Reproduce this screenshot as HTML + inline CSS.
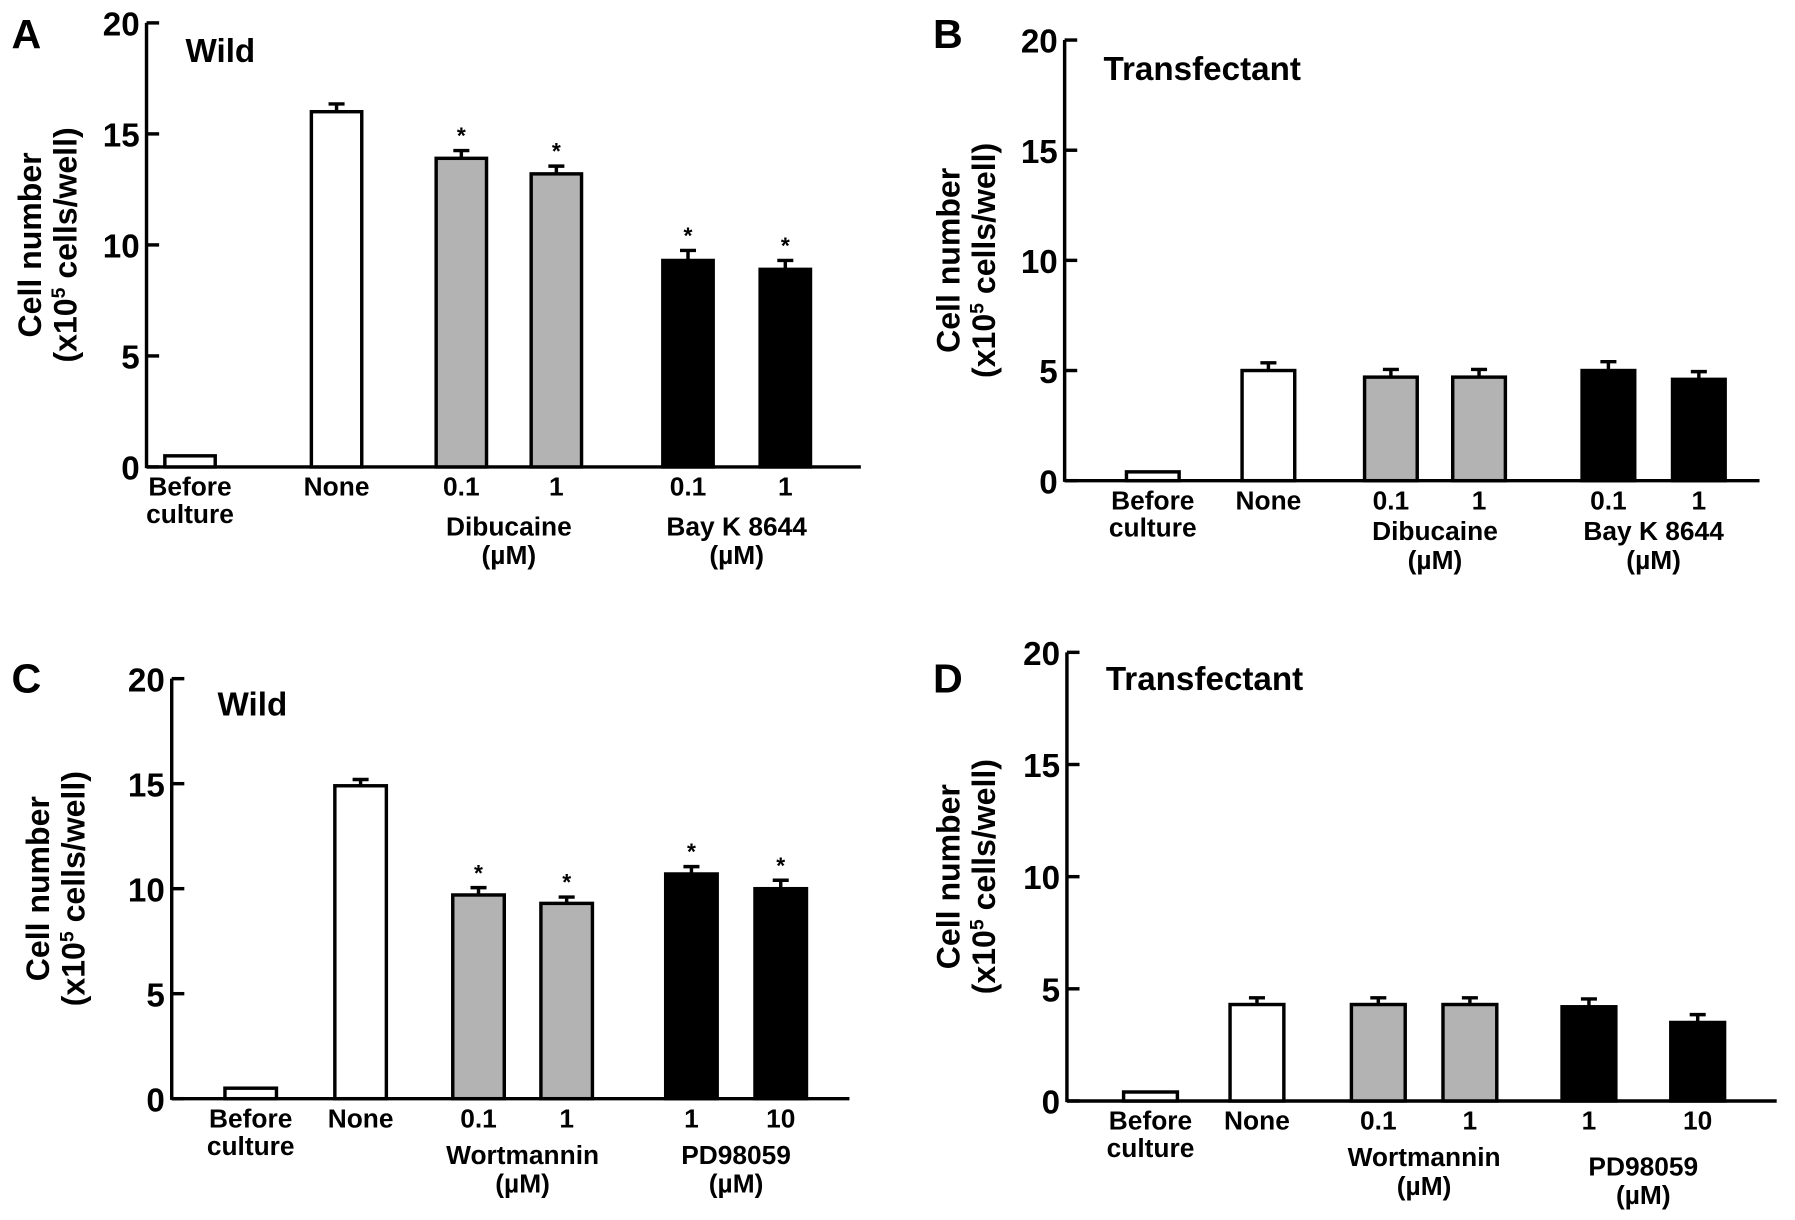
<!DOCTYPE html>
<html><head><meta charset="utf-8"><style>
html,body{margin:0;padding:0;background:#fff;}
svg{display:block;}
text{font-family:"Liberation Sans",Arial,sans-serif;font-weight:bold;fill:#000;}
</style></head><body>
<svg id="fig" width="1795" height="1220" viewBox="0 0 1568 1066" preserveAspectRatio="none" xmlns="http://www.w3.org/2000/svg"></svg>
<script>
const categories = ["Before culture","None","0.1","1","0.1","1"];
const catsCD = ["Before culture","None","0.1","1","1","10"];
const valuesA = [0.5,16.0,13.9,13.2,9.3,8.9];
const errorsA = [0,0.35,0.35,0.35,0.45,0.4];
const valuesB = [0.4,5.0,4.7,4.7,5.0,4.6];
const errorsB = [0,0.35,0.35,0.35,0.4,0.35];
const valuesC = [0.5,14.9,9.7,9.3,10.7,10.0];
const errorsC = [0,0.3,0.35,0.3,0.35,0.4];
const valuesD = [0.4,4.3,4.3,4.3,4.2,3.5];
const errorsD = [0,0.3,0.3,0.3,0.35,0.35];
const yTicks = [0,5,10,15,20];
const fills = ["#fff","#fff","#b3b3b3","#b3b3b3","#000","#000"];
const sigA = [false,false,true,true,true,true];
const sigC = [false,false,true,true,true,true];
const none = [false,false,false,false,false,false];

const NS="http://www.w3.org/2000/svg";
const svg=document.getElementById('fig');
function el(tag,attrs,parent,txt){const e=document.createElementNS(NS,tag);for(const k in attrs)e.setAttribute(k,attrs[k]);if(txt!==undefined)e.textContent=txt;(parent||svg).appendChild(e);return e;}

function panel(cfg){
  const g=el('g',{});
  
  
  const y=v=>cfg.y0-(cfg.y0-cfg.y20)*v/20;
  const ax=el('line',{x1:cfg.ax,y1:cfg.y20,x2:cfg.ax,y2:cfg.y0+1,stroke:'#000','stroke-width':3},g);
  
  
  const xa=el('line',{x1:cfg.ax,y1:cfg.y0,x2:cfg.xend,y2:cfg.y0,stroke:'#000','stroke-width':3},g);
  
  
  yTicks.forEach(t=>{
    el('line',{x1:cfg.ax,y1:y(t),x2:cfg.ax+11,y2:y(t),stroke:'#000','stroke-width':3},g);
    const tl=el('text',{x:cfg.ax-6,y:y(t)+11,'text-anchor':'end','font-size':29},g,String(t));
    
    
  });
  const L=el('text',{x:cfg.lx,y:cfg.ly,'font-size':36},g,cfg.letter);
  
  
  const T=el('text',{x:cfg.tx,y:cfg.ty,'font-size':29},g,cfg.title);
  
  
  const yl=el('text',{transform:`translate(${cfg.ylx},${(cfg.y0+cfg.y20)/2}) rotate(-90)`,'text-anchor':'middle','font-size':28},g);
  
  
  el('tspan',{x:0,dy:0},yl,'Cell number');
  el('tspan',{x:0,dy:31},yl,'(x10');
  el('tspan',{dy:-10,'font-size':17},yl,'5');
  el('tspan',{dy:10},yl,' cells/well)');
  cfg.vals.forEach((v,i)=>{
    const cx=cfg.cx[i], w=cfg.bw;
    const top=y(v);
    const b=el('rect',{x:cx-w/2,y:top,width:w,height:cfg.y0-top,fill:fills[i],stroke:'#000','stroke-width':3},g);
    
    
    if(cfg.err[i]>0){
      const ey=y(v+cfg.err[i]);
      el('line',{x1:cx,y1:top,x2:cx,y2:ey,stroke:'#000','stroke-width':3},g);
      el('line',{x1:cx-7,y1:ey,x2:cx+7,y2:ey,stroke:'#000','stroke-width':3},g);
      if(cfg.sig[i]){
        const s=el('text',{x:cx,y:ey-6,'text-anchor':'middle','font-size':20},g,'*');
        
        
      }
    }
    const lab=cfg.cats[i];
    if(lab==='Before culture'){
      el('text',{x:cx,y:cfg.y0+25,'text-anchor':'middle','font-size':23},g,'Before');
      el('text',{x:cx,y:cfg.y0+49,'text-anchor':'middle','font-size':23},g,'culture');
    } else {
      const c=el('text',{x:cx,y:cfg.y0+25,'text-anchor':'middle','font-size':23},g,lab);
      
      
    }
  });
  cfg.groups.forEach(gr=>{
    const mx=(cfg.cx[gr.i]+cfg.cx[gr.i+1])/2;
    const a=el('text',{x:mx,y:cfg.y0+gr.dy,'text-anchor':'middle','font-size':23},g,gr.name);
    
    
    el('text',{x:mx,y:cfg.y0+gr.dy+25,'text-anchor':'middle','font-size':23},g,'(µM)');
  });
}

panel({letter:'A',lx:10,ly:42,title:'Wild',tx:162,ty:54,ax:128,y20:20,y0:408,xend:752,ylx:36,
  cx:[166,294,403,486,601,686],bw:44,vals:valuesA,err:errorsA,sig:sigA,cats:categories,
  groups:[{i:2,name:'Dibucaine',dy:60},{i:4,name:'Bay K 8644',dy:60}]});
panel({letter:'B',lx:815,ly:42,title:'Transfectant',tx:964,ty:70,ax:930,y20:35,y0:420,xend:1537,ylx:838,
  cx:[1007,1108,1215,1292,1405,1484],bw:46,vals:valuesB,err:errorsB,sig:none,cats:categories,
  groups:[{i:2,name:'Dibucaine',dy:52},{i:4,name:'Bay K 8644',dy:52}]});
panel({letter:'C',lx:10,ly:605,title:'Wild',tx:190,ty:625,ax:150,y20:593,y0:960,xend:742,ylx:43,
  cx:[219,315,418,495,604,682],bw:45,vals:valuesC,err:errorsC,sig:sigC,cats:catsCD,
  groups:[{i:2,name:'Wortmannin',dy:57},{i:4,name:'PD98059',dy:57}]});
panel({letter:'D',lx:815,ly:605,title:'Transfectant',tx:966,ty:603,ax:932,y20:570,y0:962,xend:1552,ylx:838,
  cx:[1005,1098,1204,1284,1388,1483],bw:47,vals:valuesD,err:errorsD,sig:none,cats:catsCD,
  groups:[{i:2,name:'Wortmannin',dy:57},{i:4,name:'PD98059',dy:65}]});
</script>
</body></html>
